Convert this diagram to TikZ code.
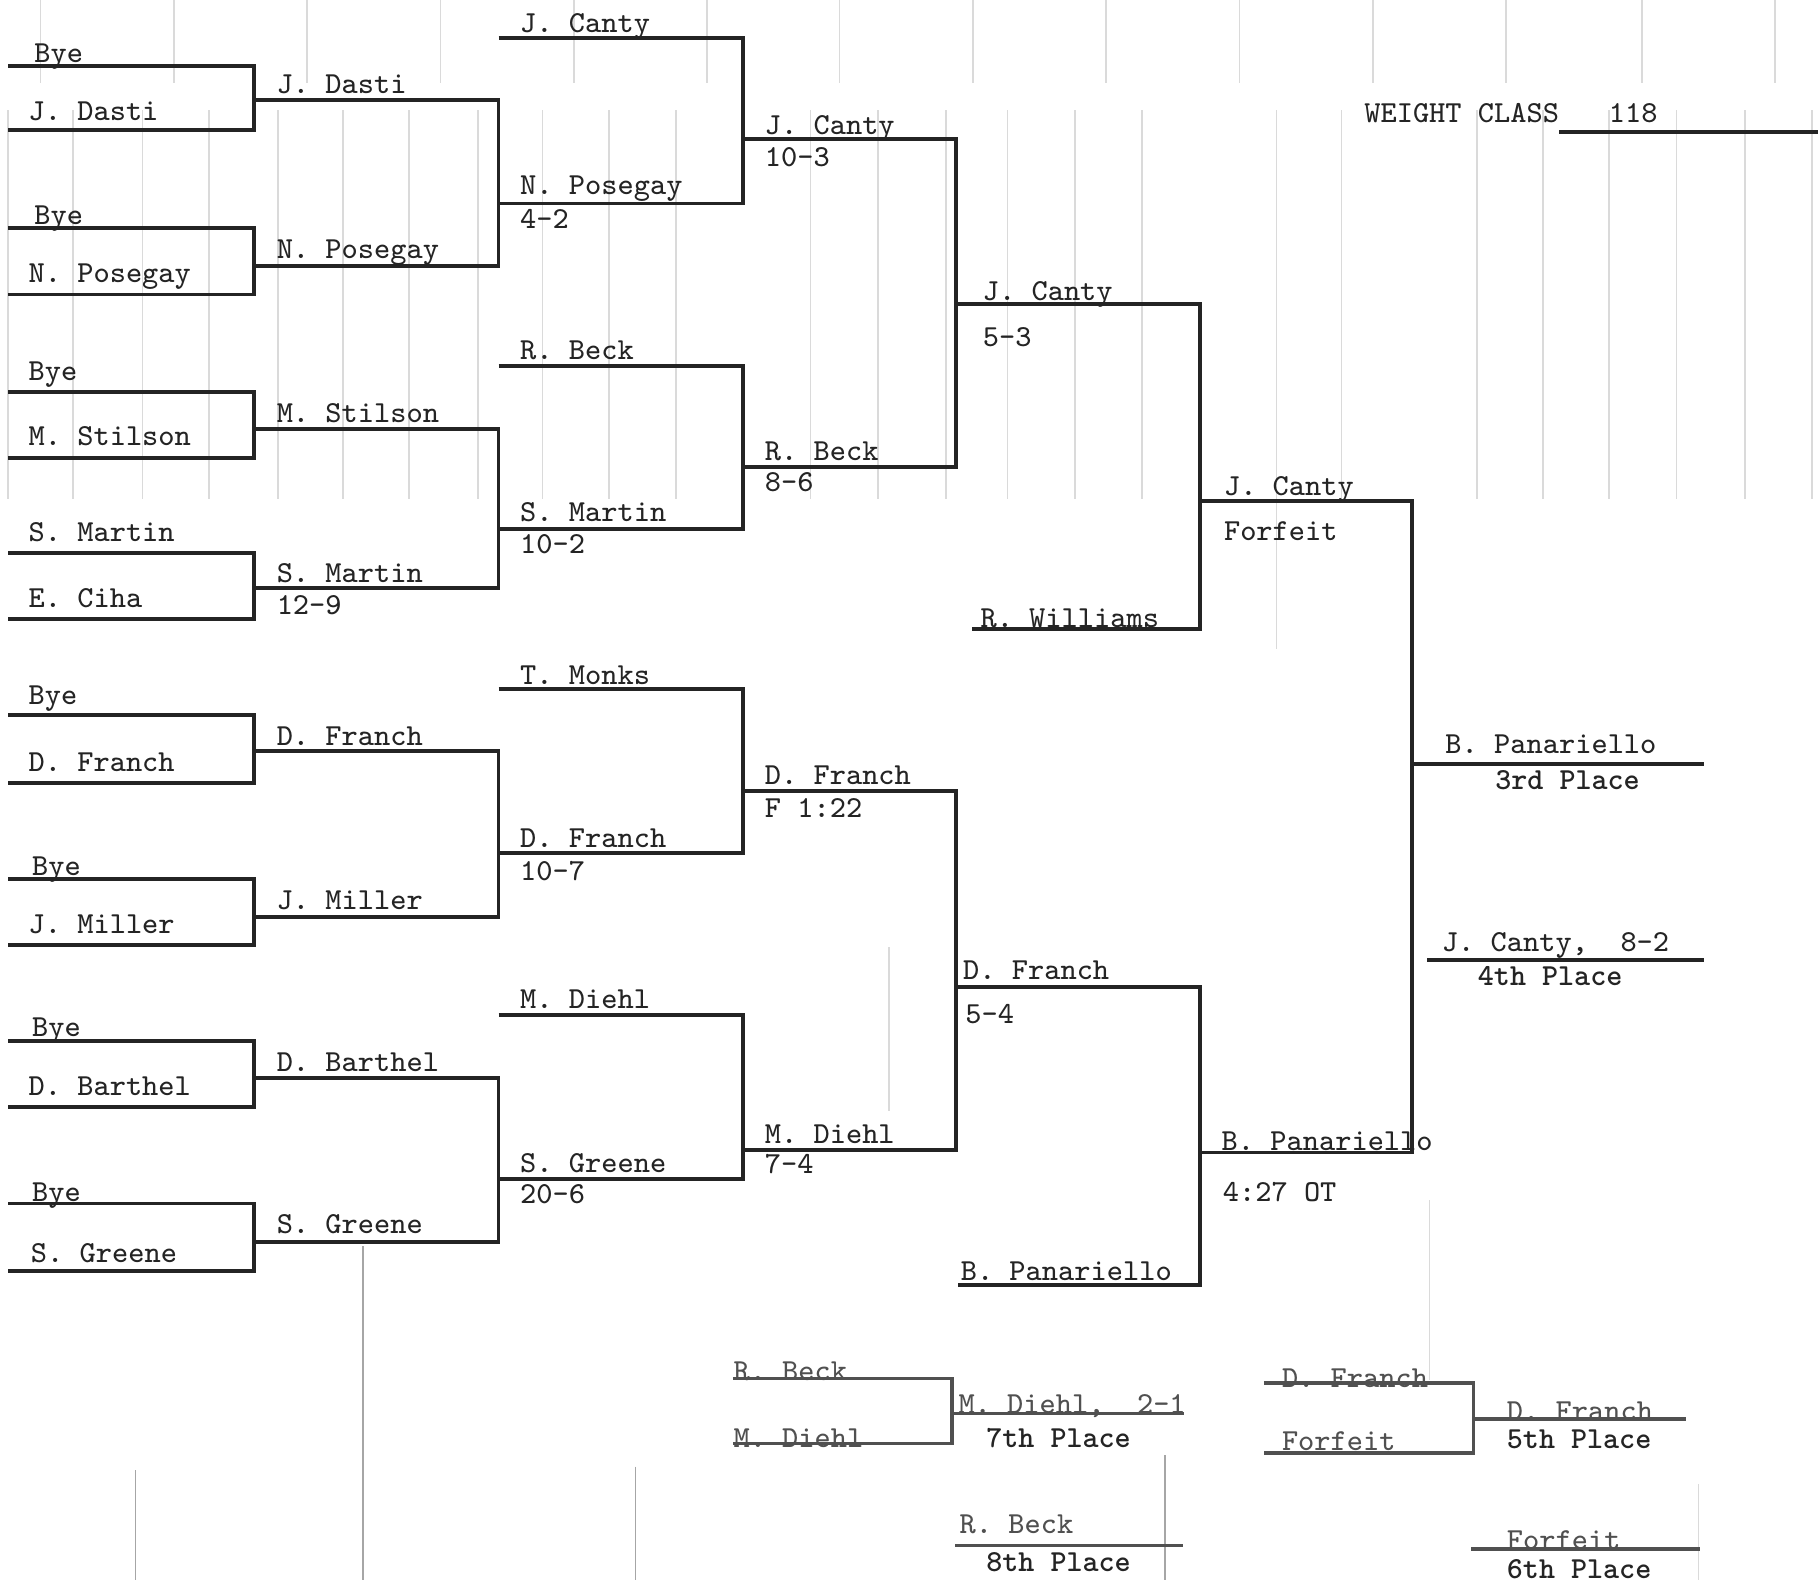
\documentclass[tikz,border=0pt]{standalone}
\usepackage{tikz}
\definecolor{inkgray}{RGB}{36,36,36}
\definecolor{fadegray}{RGB}{80,80,80}
\definecolor{showthrough}{RGB}{218,218,218}
\tikzset{
  bline/.style={line width=.95pt, inkgray},
  consline/.style={line width=.9pt, fadegray},
  nm/.style={font=\fontsize{7.5}{9}\selectfont\ttfamily, text=inkgray, inner sep=0pt, anchor=base west},
  consnm/.style={nm, text=fadegray},
  placenm/.style={nm, font=\fontsize{7.5}{9}\selectfont\ttfamily\bfseries},
  ruling/.style={showthrough, line width=.4pt}
}
\begin{document}
\begin{tikzpicture}[x=.1mm, y=-.1mm]
  \useasboundingbox (0,0) rectangle (1568,1363);

  % ruling of the form, showing through the paper
  \draw[ruling] (35,0)--(35,72) (150,0)--(150,72) (265,0)--(265,72) (380,0)--(380,72)
    (495,0)--(495,72) (610,0)--(610,72) (724,0)--(724,72) (839,0)--(839,72)
    (954,0)--(954,72) (1069,0)--(1069,72) (1184,0)--(1184,72) (1299,0)--(1299,72)
    (1416,0)--(1416,72) (1531,0)--(1531,72);
  \draw[ruling] (7,95)--(7,430) (63,95)--(63,430) (123,95)--(123,430) (180,95)--(180,430)
    (240,95)--(240,430) (296,95)--(296,430) (353,95)--(353,430) (412,95)--(412,430)
    (468,95)--(468,430) (525,95)--(525,430) (583,95)--(583,430) (699,95)--(699,430)
    (757,95)--(757,430) (816,95)--(816,430) (869,95)--(869,430) (927,95)--(927,430)
    (985,95)--(985,430) (1101,95)--(1101,560) (1157,95)--(1157,430) (1274,95)--(1274,430)
    (1331,95)--(1331,430) (1388,95)--(1388,430) (1446,95)--(1446,430) (1505,95)--(1505,430)
    (1563,95)--(1563,430);
  \draw[ruling] (767,817)--(767,958) (1233,1035)--(1233,1190) (1465,1280)--(1465,1363);
  \draw[ruling, black!35] (313,1075)--(313,1363) (117,1268)--(117,1363)
    (548,1265)--(548,1363) (1005,1255)--(1005,1363);

  % bracket columns
  \coordinate (col1) at (219,0);
  \coordinate (col2) at (430,0);
  \coordinate (col3) at (641,0);
  \coordinate (col4) at (824.5,0);
  \coordinate (col5) at (1035,0);
  \coordinate (col6) at (1218,0);

  % Weight class
  \node[nm] (wtitle) at (1176,106) {WEIGHT CLASS};
  \node[nm] (wvalue) at (1387,106) {118};
  \coordinate (w1) at (1345,114);
  \coordinate (w1e) at (1568,114);
  \draw[bline] (w1) -- (w1e);

  % First round
  \coordinate (a1) at (7,57);     \node[nm] (a1t) at (29,54) {Bye};
  \coordinate (a2) at (7,112);    \node[nm] (a2t) at (24,104) {J. Dasti};
  \coordinate (a3) at (7,197);    \node[nm] (a3t) at (29,194) {Bye};
  \coordinate (a4) at (7,254);    \node[nm] (a4t) at (24,244) {N. Posegay};
  \coordinate (a5) at (7,338);    \node[nm] (a5t) at (24,328) {Bye};
  \coordinate (a6) at (7,395);    \node[nm] (a6t) at (24,384) {M. Stilson};
  \coordinate (a7) at (7,477);    \node[nm] (a7t) at (24,467) {S. Martin};
  \coordinate (a8) at (7,534);    \node[nm] (a8t) at (24,524) {E. Ciha};
  \coordinate (a9) at (7,617);    \node[nm] (a9t) at (24,608) {Bye};
  \coordinate (a10) at (7,675);   \node[nm] (a10t) at (24,665) {D. Franch};
  \coordinate (a11) at (7,758);   \node[nm] (a11t) at (27,755) {Bye};
  \coordinate (a12) at (7,815);   \node[nm] (a12t) at (24,805) {J. Miller};
  \coordinate (a13) at (7,898);   \node[nm] (a13t) at (27,894) {Bye};
  \coordinate (a14) at (7,955);   \node[nm] (a14t) at (24,945) {D. Barthel};
  \coordinate (a15) at (7,1038);  \node[nm] (a15t) at (27,1036) {Bye};
  \coordinate (a16) at (7,1096);  \node[nm] (a16t) at (26,1089) {S. Greene};
  \draw[bline] (a1) -- (a1 -| col1) -- (a2 -| col1) -- (a2);
  \draw[bline] (a3) -- (a3 -| col1) -- (a4 -| col1) -- (a4);
  \draw[bline] (a5) -- (a5 -| col1) -- (a6 -| col1) -- (a6);
  \draw[bline] (a7) -- (a7 -| col1) -- (a8 -| col1) -- (a8);
  \draw[bline] (a9) -- (a9 -| col1) -- (a10 -| col1) -- (a10);
  \draw[bline] (a11) -- (a11 -| col1) -- (a12 -| col1) -- (a12);
  \draw[bline] (a13) -- (a13 -| col1) -- (a14 -| col1) -- (a14);
  \draw[bline] (a15) -- (a15 -| col1) -- (a16 -| col1) -- (a16);

  % Second round
  \coordinate (b1) at (219,86);    \node[nm] (b1t) at (238,81) {J. Dasti};
  \coordinate (b2) at (219,229.5); \node[nm] (b2t) at (238,223) {N. Posegay};
  \coordinate (b3) at (219,370);   \node[nm] (b3t) at (238,364) {M. Stilson};
  \coordinate (b4) at (219,507.5); \node[nm] (b4t) at (238,502) {S. Martin};
  \node[nm] (b4s) at (238,530) {12-9};
  \coordinate (b5) at (219,648);   \node[nm] (b5t) at (238,643) {D. Franch};
  \coordinate (b6) at (219,791);   \node[nm] (b6t) at (238,784) {J. Miller};
  \coordinate (b7) at (219,929.5); \node[nm] (b7t) at (238,924) {D. Barthel};
  \coordinate (b8) at (219,1071);  \node[nm] (b8t) at (238,1064) {S. Greene};
  \draw[bline] (b1) -- (b1 -| col2) -- (b2 -| col2) -- (b2);
  \draw[bline] (b3) -- (b3 -| col2) -- (b4 -| col2) -- (b4);
  \draw[bline] (b5) -- (b5 -| col2) -- (b6 -| col2) -- (b6);
  \draw[bline] (b7) -- (b7 -| col2) -- (b8 -| col2) -- (b8);

  % Third round
  \coordinate (c1) at (430,32.5);  \node[nm] (c1t) at (448,28) {J. Canty};
  \coordinate (c2) at (430,175.5); \node[nm] (c2t) at (448,168) {N. Posegay};
  \node[nm] (c2s) at (448,197) {4-2};
  \coordinate (c3) at (430,315.5); \node[nm] (c3t) at (448,310) {R. Beck};
  \coordinate (c4) at (430,456.5); \node[nm] (c4t) at (448,450) {S. Martin};
  \node[nm] (c4s) at (448,477) {10-2};
  \coordinate (c5) at (430,594);   \node[nm] (c5t) at (448,590) {T. Monks};
  \coordinate (c6) at (430,736);   \node[nm] (c6t) at (448,731) {D. Franch};
  \node[nm] (c6s) at (448,759) {10-7};
  \coordinate (c7) at (430,875.5); \node[nm] (c7t) at (448,870) {M. Diehl};
  \coordinate (c8) at (430,1017);  \node[nm] (c8t) at (448,1011) {S. Greene};
  \node[nm] (c8s) at (448,1038) {20-6};
  \draw[bline] (c1) -- (c1 -| col3) -- (c2 -| col3) -- (c2);
  \draw[bline] (c3) -- (c3 -| col3) -- (c4 -| col3) -- (c4);
  \draw[bline] (c5) -- (c5 -| col3) -- (c6 -| col3) -- (c6);
  \draw[bline] (c7) -- (c7 -| col3) -- (c8 -| col3) -- (c8);

  % Quarter finals
  \coordinate (d1) at (641,120);   \node[nm] (d1t) at (659,116) {J. Canty};
  \node[nm] (d1s) at (659,144) {10-3};
  \coordinate (d2) at (641,402.5); \node[nm] (d2t) at (659,397) {R. Beck};
  \node[nm] (d2s) at (659,424) {8-6};
  \coordinate (d3) at (641,682);   \node[nm] (d3t) at (659,677) {D. Franch};
  \node[nm] (d3s) at (659,705) {F 1:22};
  \coordinate (d4) at (641,991.5); \node[nm] (d4t) at (659,986) {M. Diehl};
  \node[nm] (d4s) at (659,1012) {7-4};
  \draw[bline] (d1) -- (d1 -| col4) -- (d2 -| col4) -- (d2);
  \draw[bline] (d3) -- (d3 -| col4) -- (d4 -| col4) -- (d4);

  % Semi finals
  \coordinate (e1) at (824.5,262.5); \node[nm] (e1t) at (847,259) {J. Canty};
  \node[nm] (e1s) at (847,299) {5-3};
  \coordinate (e2) at (838,542.5);   \node[nm] (e2t) at (845,541) {R. Williams};
  \coordinate (e3) at (824.5,851.5); \node[nm] (e3t) at (830,845) {D. Franch};
  \node[nm] (e3s) at (832,883) {5-4};
  \coordinate (e4) at (826,1108);    \node[nm] (e4t) at (828,1104) {B. Panariello};
  \draw[bline] (e1) -- (e1 -| col5) -- (e2 -| col5) -- (e2);
  \draw[bline] (e3) -- (e3 -| col5) -- (e4 -| col5) -- (e4);

  % Consolation final
  \coordinate (f1) at (1035,432);  \node[nm] (f1t) at (1055,427) {J. Canty};
  \node[nm] (f1s) at (1055,466) {Forfeit};
  \coordinate (f2) at (1035,994);  \node[nm] (f2t) at (1053,992) {B. Panariello};
  \node[nm] (f2s) at (1054,1036) {4:27 OT};
  \draw[bline] (f1) -- (f1 -| col6) -- (f2 -| col6) -- (f2);

  % 3rd and 4th
  \coordinate (g1) at (1218,659);  \coordinate (g1e) at (1470,659);
  \coordinate (g2) at (1231,828);  \coordinate (g2e) at (1470,828);
  \draw[bline] (g1) -- (g1e);
  \draw[bline] (g2) -- (g2e);
  \node[nm] (g1t) at (1246,650) {B. Panariello};
  \node[placenm] (g1p) at (1289,681) {3rd Place};
  \node[nm] (g2t) at (1243,821) {J. Canty,\ \ 8-2};
  \node[placenm] (g2p) at (1274,850) {4th Place};

  % 7th and 8th
  \coordinate (hj) at (821,0);
  \coordinate (h1) at (632,1189);  \node[consnm] (h1t) at (632,1191) {R. Beck};
  \coordinate (h2) at (632,1245);  \node[consnm] (h2t) at (632,1248) {M. Diehl};
  \draw[consline] (h1) -- (h1 -| hj) -- (h2 -| hj) -- (h2);
  \coordinate (h3) at (821,1219);  \coordinate (h3e) at (1021,1219);
  \coordinate (h4) at (824,1333);  \coordinate (h4e) at (1020,1333);
  \draw[consline] (h3) -- (h3e);
  \draw[consline] (h4) -- (h4e);
  \node[consnm] (h3t) at (826,1219) {M. Diehl,\ \ 2-1};
  \node[placenm] (h3p) at (850,1248) {7th Place};
  \node[consnm] (h4t) at (827,1323) {R. Beck};
  \node[placenm] (h4p) at (850,1355) {8th Place};

  % 5th and 6th
  \coordinate (kj) at (1271,0);
  \coordinate (k1) at (1090,1193); \node[consnm] (k1t) at (1105,1197) {D. Franch};
  \coordinate (k2) at (1090,1253); \node[consnm] (k2t) at (1105,1251) {Forfeit};
  \draw[consline] (k1) -- (k1 -| kj) -- (k2 -| kj) -- (k2);
  \coordinate (k3) at (1271,1224); \coordinate (k3e) at (1454,1224);
  \coordinate (k4) at (1269,1336); \coordinate (k4e) at (1466,1336);
  \draw[consline] (k3) -- (k3e);
  \draw[consline] (k4) -- (k4e);
  \node[consnm] (k3t) at (1299,1225) {D. Franch};
  \node[placenm] (k3p) at (1299,1249) {5th Place};
  \node[consnm] (k4t) at (1299,1336) {Forfeit};
  \node[placenm] (k4p) at (1299,1361) {6th Place};
\end{tikzpicture}
\end{document}
